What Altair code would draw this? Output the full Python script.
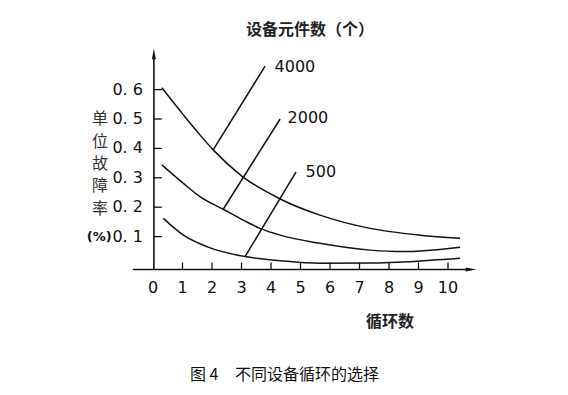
import altair as alt
import pandas as pd

# ---- data ----
cycles_4000 = [0.30, 1.03, 1.59, 2.04, 3.01, 4.31, 5.66, 7.36, 9.05, 10.41]
rate_4000 = [0.606, 0.514, 0.446, 0.395, 0.306, 0.228, 0.173, 0.128, 0.105, 0.094]

cycles_2000 = [0.30, 1.03, 1.59, 2.38, 3.06, 3.63, 4.31, 5.66, 7.36, 8.48, 10.41]
rate_2000 = [0.344, 0.281, 0.236, 0.193, 0.156, 0.128, 0.105, 0.077, 0.054, 0.049, 0.064]

cycles_500 = [0.35, 1.03, 1.82, 3.12, 4.31, 5.66, 7.36, 9.05, 10.41]
rate_500 = [0.162, 0.105, 0.066, 0.032, 0.018, 0.009, 0.010, 0.017, 0.026]

series_names = ["4000", "2000", "500"]
leader_start_x = [2.04, 2.38, 3.12]
leader_start_y = [0.395, 0.193, 0.032]
leader_end_x = [3.80, 4.31, 4.85]
leader_end_y = [0.680, 0.500, 0.320]
label_x = [4.12, 4.56, 5.17]
label_y = [0.677, 0.503, 0.320]

x_ticks = [0, 1, 2, 3, 4, 5, 6, 7, 8, 9, 10]
y_ticks = [0.1, 0.2, 0.3, 0.4, 0.5, 0.6]
y_tick_labels = ["0. 1", "0. 2", "0. 3", "0. 4", "0. 5", "0. 6"]

y_title_chars = ["单", "位", "故", "障", "率"]
y_title_y = [0.500, 0.422, 0.347, 0.272, 0.194]

top_title = "设备元件数（个）"
x_title = "循环数"
caption_fig = "图 4"
caption_text = "不同设备循环的选择"

# ---- scales (whole canvas is the view) ----
X_DOMAIN = [-4.9153, 13.7966]
Y_DOMAIN = [-0.41156, 0.87755]
xs = alt.Scale(domain=X_DOMAIN, nice=False, zero=False)
ys = alt.Scale(domain=Y_DOMAIN, nice=False, zero=False)


def X(f="x"):
    return alt.X(f"{f}:Q", scale=xs, axis=None)


def Y(f="y"):
    return alt.Y(f"{f}:Q", scale=ys, axis=None)


AXIS_X = 0.03
AXIS_Y = -0.012

curves = pd.concat([
    pd.DataFrame({"x": cycles_4000, "y": rate_4000, "s": "4000"}),
    pd.DataFrame({"x": cycles_2000, "y": rate_2000, "s": "2000"}),
    pd.DataFrame({"x": cycles_500, "y": rate_500, "s": "500"}),
])

line_layer = alt.Chart(curves).mark_line(
    color="#111", strokeWidth=1.5, interpolate="monotone"
).encode(x=X(), y=Y(), detail="s:N", order="x:Q")

leaders = pd.DataFrame({
    "x": leader_start_x, "y": leader_start_y,
    "x2": leader_end_x, "y2": leader_end_y,
})
leader_layer = alt.Chart(leaders).mark_rule(color="#111", strokeWidth=1.5).encode(
    x=X(), y=Y(), x2="x2:Q", y2="y2:Q"
)

labels = pd.DataFrame({"x": label_x, "y": label_y, "t": series_names})
label_layer = alt.Chart(labels).mark_text(
    align="left", baseline="middle", font="DejaVu Sans", fontSize=16, color="#111"
).encode(x=X(), y=Y(), text="t:N")

# axes lines
axes = pd.DataFrame({
    "x": [-0.68, AXIS_X], "y": [AXIS_Y, AXIS_Y],
    "x2": [10.7, AXIS_X], "y2": [AXIS_Y, 0.71],
})
axes_layer = alt.Chart(axes).mark_rule(color="#111", strokeWidth=1.6).encode(
    x=X(), y=Y(), x2="x2:Q", y2="y2:Q"
)

# tick marks
xt = pd.DataFrame({"x": x_ticks[1:], "y": AXIS_Y, "y2": 0.012})
xtick_layer = alt.Chart(xt).mark_rule(color="#111", strokeWidth=1.3).encode(
    x=X(), y=Y(), y2="y2:Q"
)
yt = pd.DataFrame({"x": AXIS_X, "x2": 0.30, "y": y_ticks})
ytick_layer = alt.Chart(yt).mark_rule(color="#111", strokeWidth=1.3).encode(
    x=X(), x2="x2:Q", y=Y()
)

# tick labels
xl = pd.DataFrame({"x": x_ticks, "y": -0.0748, "t": [str(v) for v in x_ticks]})
xlabel_layer = alt.Chart(xl).mark_text(
    align="center", baseline="middle", font="DejaVu Sans", fontSize=16, color="#111"
).encode(x=X(), y=Y(), text="t:N")

yl = pd.DataFrame({"x": -0.34, "y": y_ticks, "t": y_tick_labels})
ylabel_layer = alt.Chart(yl).mark_text(
    align="right", baseline="middle", font="DejaVu Sans", fontSize=16, color="#111"
).encode(x=X(), y=Y(), text="t:N")

# arrow heads
arrows = pd.DataFrame({"x": [AXIS_X, 10.78], "y": [0.721, AXIS_Y],
                       "k": ["up", "right"]})
arrow_up = alt.Chart(arrows[arrows.k == "up"]).mark_point(
    shape="M0,-1L0.38,1L-0.38,1Z", filled=True, size=110, color="#111", opacity=1
).encode(x=X(), y=Y())
arrow_right = alt.Chart(arrows[arrows.k == "right"]).mark_point(
    shape="M1,0L-1,0.38L-1,-0.38Z", filled=True, size=110, color="#111", opacity=1
).encode(x=X(), y=Y())

# y title (vertical characters)
yc = pd.DataFrame({"x": -1.80, "y": y_title_y, "t": y_title_chars})
ytitle_layer = alt.Chart(yc).mark_text(
    align="center", baseline="middle", font="Noto Sans CJK SC", fontSize=16,
    color="#333"
).encode(x=X(), y=Y(), text="t:N")

pct = pd.DataFrame({"x": [-1.40], "y": [0.099], "t": ["(%)"]})
pct_layer = alt.Chart(pct).mark_text(
    align="right", baseline="middle", font="DejaVu Sans", fontSize=13,
    fontWeight="bold", color="#111"
).encode(x=X(), y=Y(), text="t:N")

# titles / caption
texts = pd.DataFrame({
    "x": [5.32, 8.03],
    "y": [0.803, -0.19],
    "t": [top_title, x_title],
})
title_layer = alt.Chart(texts).mark_text(
    align="center", baseline="middle", font="Noto Sans CJK SC", fontSize=16,
    fontWeight="bold", color="#222"
).encode(x=X(), y=Y(), text="t:N")

cap = pd.DataFrame({"x": [1.254, 2.78], "y": [-0.371, -0.371],
                    "t": [caption_fig, caption_text]})
cap_layer = alt.Chart(cap).mark_text(
    align="left", baseline="middle", font="Noto Sans CJK SC", fontSize=16,
    color="#111"
).encode(x=X(), y=Y(), text="t:N")

chart = alt.layer(
    axes_layer, xtick_layer, ytick_layer, arrow_up, arrow_right,
    line_layer, leader_layer, label_layer, xlabel_layer, ylabel_layer,
    ytitle_layer, pct_layer, title_layer, cap_layer,
).properties(
    width=552, height=379, padding=0, autosize="none", background="white"
).configure_view(stroke=None)

chart.save("out.html", embed_options={"renderer": "svg", "actions": False})
